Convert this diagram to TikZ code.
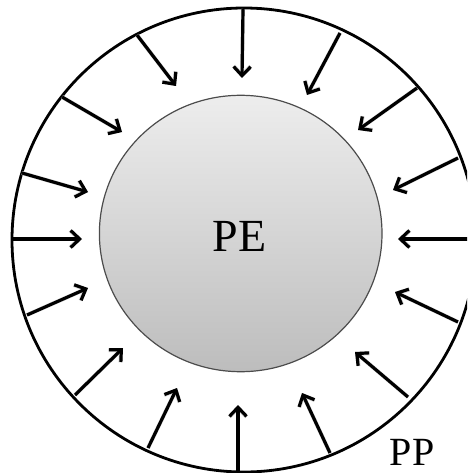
\documentclass[tikz,border=0pt]{standalone}
\usepackage{fontspec}
\setmainfont{Liberation Serif}
\usetikzlibrary{arrows.meta}
\begin{document}
\begin{tikzpicture}[x=1pt,y=-1pt,
  push/.style={line width=3.2pt,-{Straight Barb[length=9pt,width=17pt,line width=3.2pt]}},
  pushshadow/.style={line width=4pt,draw=black!15,-{Straight Barb[length=9pt,width=17pt,line width=4pt]}},
  label/.style={inner sep=0pt,anchor=base}]
\useasboundingbox (0,0) rectangle (467,473);
\clip (0,0) rectangle (467,473);
% outer ring
\draw[line width=2.8pt] (244,240) ellipse [x radius=232, y radius=232];
% inner ball
\shade[top color=gray!14, bottom color=gray!52] (240.7,233.5) ellipse [x radius=141.3, y radius=138.2];
\draw[line width=1.2pt, draw=black!70] (240.7,233.5) ellipse [x radius=141.3, y radius=138.2];
% arrow endpoints
\foreach \n/\sx/\sy/\tx/\ty in {
  a/243/9/242/78,
  b/340/33/307/95,
  c/417/88/358/130,
  d/458/158/393/190,
  e/470/239/398/239,
  f/458/322/395/292,
  g/408/397/355/352,
  h/330/453/302/393,
  i/238/472/238/405,
  j/148/448/177/388,
  k/75/395/123/348,
  l/27/315/88/288,
  m/13/239/82/239,
  n/22/173/88/192,
  o/62/97/122/132,
  p/137/35/176/86}{
  \coordinate (s\n) at (\sx,\sy);
  \coordinate (t\n) at (\tx,\ty);
  \draw[pushshadow,shift={(1.2,1.6)}] (s\n) -- (t\n);
  \draw[push] (s\n) -- (t\n);
}
\node[label,font=\fontsize{46}{50}\selectfont] (pe) at (239.5,251) {PE};
\node[label,font=\fontsize{40}{44}\selectfont] (pp) at (412,465) {PP};
\end{tikzpicture}
\end{document}
